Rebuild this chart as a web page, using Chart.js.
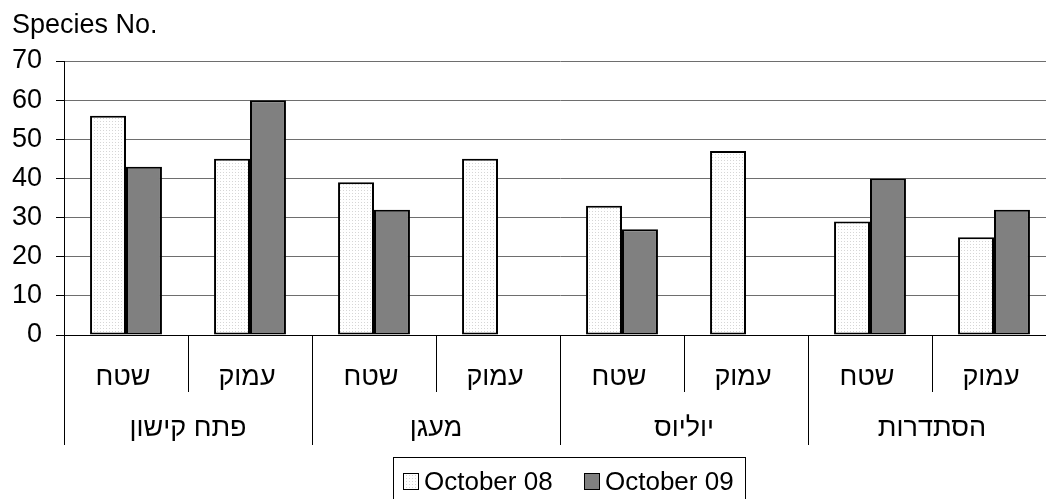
<!DOCTYPE html>
<html>
<head>
<meta charset="utf-8">
<script src="https://cdn.jsdelivr.net/npm/chart.js@4.4.1/dist/chart.umd.min.js"></script>
<style>
  html, body { margin: 0; padding: 0; background: #fff; overflow: hidden; }
  #wrap { position: relative; width: 1060px; height: 499px; }
</style>
</head>
<body>
<div id="wrap"><canvas id="c" width="1060" height="499"></canvas></div>
<script>
// Sampling sites: each site has a surface (שטח) and a deep (עמוק) station
const subLabels = ['שטח', 'עמוק', 'שטח', 'עמוק', 'שטח', 'עמוק', 'שטח', 'עמוק'];
const groupLabels = ['פתח קישון', 'מעגן', 'יוליוס', 'הסתדרות'];
const seriesNames = ['October 08', 'October 09'];
const oct08 = [56, 45, 39, 45, 33, 47, 29, 25];
const oct09 = [43, 60, 32, null, 27, null, 40, 32];
const yTicks = [0, 10, 20, 30, 40, 50, 60, 70];
const yTitle = 'Species No.';

const FONT = '"Liberation Sans", Arial, "DejaVu Sans", sans-serif';
const SIZE = 27;

// light stipple used for the first series
function stipple() {
  const p = document.createElement('canvas');
  p.width = 3; p.height = 3;
  const g = p.getContext('2d');
  g.fillStyle = '#ffffff';
  g.fillRect(0, 0, 3, 3);
  g.fillStyle = '#d6d6d6';
  g.fillRect(1, 1, 1, 1);
  return g.createPattern(p, 'repeat');
}

const ctx0 = document.getElementById('c').getContext('2d');
const fillA = stipple();
const fillB = '#808080';

// draws the two-level category axis, the y title and the boxed legend
const decorations = {
  id: 'decorations',
  afterDraw(chart) {
    const ctx = chart.ctx;
    const xs = chart.scales.x;
    const base = chart.chartArea.bottom;
    const n = subLabels.length;
    const step = (xs.right - xs.left) / n;
    const per = n / groupLabels.length;

    ctx.save();
    ctx.fillStyle = '#000';
    ctx.textBaseline = 'alphabetic';

    // y axis title
    ctx.font = SIZE + 'px ' + FONT;
    ctx.textAlign = 'left';
    ctx.fillText(yTitle, 12, 33);

    // category separators
    ctx.strokeStyle = '#000';
    ctx.lineWidth = 1;
    for (let i = 0; i <= n; i++) {
      const x = Math.round(xs.left + i * step) + 0.5;
      const long = i % per === 0;
      ctx.beginPath();
      ctx.moveTo(x, base);
      ctx.lineTo(x, long ? 445 : 392);
      ctx.stroke();
    }

    // station labels
    ctx.textAlign = 'center';
    subLabels.forEach((t, i) => {
      ctx.fillText(t, xs.getPixelForValue(i) - 3, 385);
    });
    // site labels
    groupLabels.forEach((t, g) => {
      const cx = xs.left + (g * per + per / 2) * step;
      ctx.fillText(t, cx, 436);
    });

    // legend
    const boxL = 393, boxT = 457, boxR = 745;
    ctx.strokeRect(boxL + 0.5, boxT + 0.5, boxR - boxL, 80);
    ctx.font = '26px ' + FONT;
    const fills = [fillA, fillB];
    const itemX = [403, 584];
    ctx.textAlign = 'left';
    seriesNames.forEach((name, k) => {
      const x = itemX[k];
      ctx.fillStyle = fills[k];
      ctx.fillRect(x, 473, 16, 17);
      ctx.strokeStyle = '#000';
      ctx.strokeRect(x + 0.5, 473.5, 15, 16);
      ctx.fillStyle = '#000';
      ctx.fillText(name, x + 21, 490);
    });
    ctx.restore();
  }
};

new Chart(ctx0, {
  type: 'bar',
  data: {
    labels: subLabels,
    datasets: [
      { label: seriesNames[0], data: oct08, backgroundColor: fillA, borderColor: '#000', borderWidth: 2, borderSkipped: false },
      { label: seriesNames[1], data: oct09, backgroundColor: fillB, borderColor: '#000', borderWidth: 2, borderSkipped: false }
    ]
  },
  options: {
    responsive: false,
    devicePixelRatio: 1,
    animation: false,
    categoryPercentage: 0.58,
    barPercentage: 1,
    layout: { padding: { top: 61, bottom: 164, left: 0, right: 4 } },
    plugins: { legend: { display: false }, tooltip: { enabled: false } },
    scales: {
      x: {
        ticks: { display: false },
        grid: { display: false },
        border: { display: true, color: '#000', width: 1 },
        afterFit(s) { s.height = 0; }
      },
      y: {
        min: yTicks[0],
        max: yTicks[yTicks.length - 1],
        afterBuildTicks(s) { s.ticks = yTicks.map(v => ({ value: v })); },
        ticks: { color: '#000', font: { family: FONT, size: SIZE }, padding: 14 },
        grid: { color: '#6e6e6e', tickColor: '#000', tickLength: 8, lineWidth: 1 },
        border: { display: true, color: '#000', width: 1 },
        afterFit(s) { s.width = 64; }
      }
    }
  },
  plugins: [decorations]
});
</script>
</body>
</html>
